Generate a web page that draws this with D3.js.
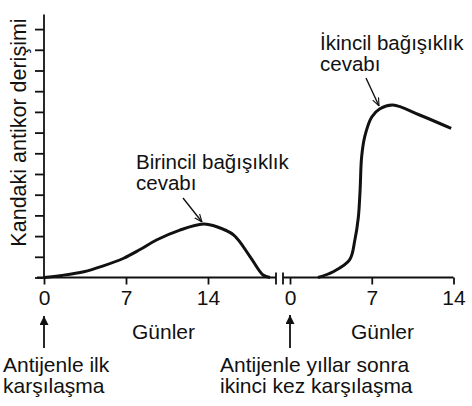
<!DOCTYPE html>
<html>
<head>
<meta charset="utf-8">
<script src="https://cdn.jsdelivr.net/npm/d3@7"></script>
<style>
  body { margin: 0; background: #fff; }
  text { font-family: "Liberation Sans", Arial, sans-serif; fill: #111; }
</style>
</head>
<body>
<script>
// data (days, relative antibody level)
const primaryDays = [0, 1.5, 3.4, 5.0, 6.8, 8.2, 9.6, 11.6, 13.6, 14.75, 16.2, 17.6, 18.7, 19.3];
const primaryValues = [0, 0.1, 0.28, 0.55, 0.93, 1.35, 1.81, 2.29, 2.58, 2.45, 2.05, 1.0, 0.12, 0];
const secondaryDays = [2.4, 3.7, 5.1, 5.55, 5.85, 6.0, 6.13, 6.4, 7.0, 7.7, 8.8, 11.1, 13.8];
const secondaryValues = [0, 0.28, 0.85, 1.8, 2.9, 4.2, 5.8, 6.8, 7.75, 8.15, 8.33, 7.85, 7.2];
const dayTicks = [0, 7, 14];
const levelTicks = d3.range(0, 13);

const width = 472, height = 406;
const svg = d3.select("body").append("svg")
    .attr("width", width)
    .attr("height", height);

const defs = svg.append("defs");
defs.append("marker")
    .attr("id", "thin")
    .attr("viewBox", "0 0 10 10")
    .attr("refX", 10).attr("refY", 5)
    .attr("markerWidth", 8).attr("markerHeight", 8)
    .attr("markerUnits", "userSpaceOnUse")
    .attr("orient", "auto")
    .append("path")
    .attr("d", "M0,1 L10,5 L0,9")
    .attr("fill", "none")
    .attr("stroke", "#111")
    .attr("stroke-width", 1.4);
defs.append("marker")
    .attr("id", "solid")
    .attr("viewBox", "0 0 10 10")
    .attr("refX", 10).attr("refY", 5)
    .attr("markerWidth", 11).attr("markerHeight", 9)
    .attr("markerUnits", "userSpaceOnUse")
    .attr("orient", "auto")
    .append("path")
    .attr("d", "M0,0 L10,5 L0,10 Z")
    .attr("fill", "#111");

const y = d3.scaleLinear().domain([0, 12.7]).range([277.5, 14.6]);
const xLeft = d3.scaleLinear().domain([0, 14]).range([44, 208]);
const xRight = d3.scaleLinear().domain([0, 14]).range([290, 453.5]);

// y axis
const yAxis = svg.append("g")
    .attr("transform", "translate(44,0)")
    .call(d3.axisLeft(y).tickValues(levelTicks).tickSize(9).tickFormat(""));
yAxis.select(".domain").attr("d", `M0,${y(12.7)}V${y(0)}`);
yAxis.selectAll("path, line").attr("stroke", "#111").attr("stroke-width", 1.8);

// x axes (broken)
function drawX(scale, from, to) {
    const g = svg.append("g")
        .attr("transform", `translate(0,${y(0)})`)
        .call(d3.axisBottom(scale).tickValues(dayTicks).tickSize(7).tickPadding(6));
    g.select(".domain").attr("d", `M${from},0H${to}`);
    g.selectAll("path, line").attr("stroke", "#111").attr("stroke-width", 1.8);
    g.selectAll("text")
        .attr("font-size", 21)
        .attr("font-family", "Liberation Sans, Arial, sans-serif")
        .attr("fill", "#111");
    return g;
}
drawX(xLeft, 37, 276);
drawX(xRight, 283, 453.5);

// break marks
[276, 283].forEach(bx => {
    svg.append("line")
        .attr("x1", bx).attr("x2", bx)
        .attr("y1", y(0) - 5).attr("y2", y(0) + 7)
        .attr("stroke", "#111").attr("stroke-width", 1.8);
});

// curves
const line = scale => d3.line()
    .x(d => scale(d[0]))
    .y(d => y(d[1]))
    .curve(d3.curveCatmullRom.alpha(0.5));

svg.append("path")
    .datum(d3.zip(primaryDays, primaryValues))
    .attr("d", line(xLeft))
    .attr("fill", "none")
    .attr("stroke", "#111")
    .attr("stroke-width", 3);

svg.append("path")
    .datum(d3.zip(secondaryDays, secondaryValues))
    .attr("d", line(xRight))
    .attr("fill", "none")
    .attr("stroke", "#111")
    .attr("stroke-width", 3);

// y label
svg.append("text")
    .attr("transform", "translate(26,132.5) rotate(-90)")
    .attr("text-anchor", "middle")
    .attr("font-size", 21.5)
    .text("Kandaki antikor derişimi");

// x labels
svg.append("text").attr("x", 132).attr("y", 339).attr("font-size", 21).text("Günler");
svg.append("text").attr("x", 351).attr("y", 339).attr("font-size", 21).text("Günler");

// annotations
function label(x0, y0, lines, size, gap) {
    const t = svg.append("text").attr("font-size", size);
    lines.forEach((s, i) => {
        t.append("tspan").attr("x", x0).attr("y", y0 + i * gap).text(s);
    });
}
label(136, 169, ["Birincil bağışıklık", "cevabı"], 20.5, 21);
label(320, 49.5, ["İkincil bağışıklık", "cevabı"], 20.5, 21);
label(3, 372, ["Antijenle ilk", "karşılaşma"], 21, 21);
label(220, 372, ["Antijenle yıllar sonra", "ikinci kez karşılaşma"], 21, 21);

function arrow(x1, y1, x2, y2, marker, w) {
    svg.append("line")
        .attr("x1", x1).attr("y1", y1)
        .attr("x2", x2).attr("y2", y2)
        .attr("stroke", "#111")
        .attr("stroke-width", w)
        .attr("marker-end", `url(#${marker})`);
}
arrow(183, 198, 202, 222, "thin", 1.4);
arrow(366, 78, 379, 106, "thin", 1.4);
arrow(xLeft(0), 348, xLeft(0), 316, "solid", 1.8);
arrow(xRight(0), 348, xRight(0), 315, "solid", 1.8);
</script>
</body>
</html>
